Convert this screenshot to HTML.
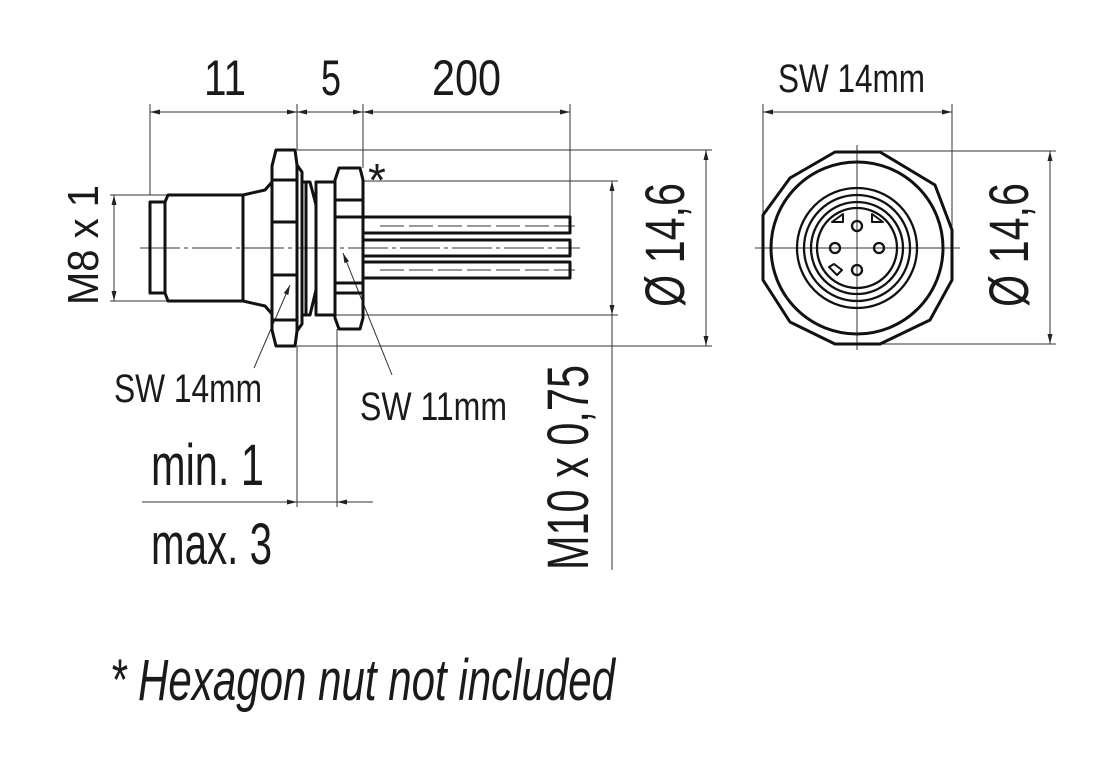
<!DOCTYPE html>
<html><head><meta charset="utf-8"><style>
html,body{margin:0;padding:0;background:#fff;}
svg{display:block;}
text{font-family:"Liberation Sans Narrow","Liberation Sans",sans-serif;fill:#1a1a1a;}
</style></head><body>
<svg width="1104" height="764" viewBox="0 0 1104 764" xmlns="http://www.w3.org/2000/svg">
<defs>
<marker id="a" viewBox="0 0 10 6" refX="10" refY="3" markerWidth="10" markerHeight="6" markerUnits="userSpaceOnUse" orient="auto-start-reverse"><path d="M0,0.5 L10,3 L0,5.5z" fill="#222"/></marker>
</defs>
<g stroke="#333" stroke-width="1" fill="none">
<line x1="150" y1="104" x2="150" y2="195"/>
<line x1="297" y1="104" x2="297" y2="150"/>
<line x1="363" y1="104" x2="363" y2="168"/>
<line x1="570" y1="104" x2="570" y2="217"/>
<line x1="150" y1="112" x2="297" y2="112" marker-start="url(#a)" marker-end="url(#a)"/>
<line x1="297" y1="112" x2="363" y2="112" marker-start="url(#a)" marker-end="url(#a)"/>
<line x1="363" y1="112" x2="570" y2="112" marker-start="url(#a)" marker-end="url(#a)"/>
<line x1="110" y1="195" x2="168" y2="195"/>
<line x1="110" y1="301" x2="168" y2="301"/>
<line x1="114" y1="195" x2="114" y2="301" marker-start="url(#a)" marker-end="url(#a)"/>
<line x1="297" y1="150" x2="712" y2="150"/>
<line x1="297" y1="346" x2="712" y2="346"/>
<line x1="363" y1="181" x2="618" y2="181"/>
<line x1="335" y1="315" x2="618" y2="315"/>
<line x1="706" y1="150" x2="706" y2="346" marker-start="url(#a)" marker-end="url(#a)"/>
<line x1="612" y1="181" x2="612" y2="315" marker-start="url(#a)" marker-end="url(#a)"/>
<line x1="612" y1="315" x2="612" y2="570"/>
<line x1="297" y1="346" x2="297" y2="507"/>
<line x1="337" y1="329" x2="337" y2="507"/>
<line x1="142" y1="502" x2="373" y2="502"/>
<line x1="285" y1="502" x2="297" y2="502" marker-end="url(#a)"/>
<line x1="349" y1="502" x2="337" y2="502" marker-end="url(#a)"/>
<line x1="254" y1="368" x2="290" y2="285" marker-end="url(#a)"/>
<line x1="392" y1="375" x2="343" y2="253" marker-end="url(#a)"/>
<line x1="140" y1="248" x2="580" y2="248" stroke-dasharray="40,4,4,4"/>
<line x1="380" y1="226" x2="575" y2="226" stroke-dasharray="24,5"/>
<line x1="380" y1="270" x2="575" y2="270" stroke-dasharray="24,5"/>
<line x1="763" y1="104" x2="763" y2="248"/>
<line x1="952" y1="104" x2="952" y2="248"/>
<line x1="763" y1="112" x2="952" y2="112" marker-start="url(#a)" marker-end="url(#a)"/>
<line x1="857" y1="151" x2="1056" y2="151"/>
<line x1="857" y1="344" x2="1056" y2="344"/>
<line x1="1050" y1="151" x2="1050" y2="344" marker-start="url(#a)" marker-end="url(#a)"/>
<line x1="755" y1="248" x2="960" y2="248"/>
<line x1="857" y1="145" x2="857" y2="350"/>
</g>
<g stroke="#111" stroke-width="3" fill="none" stroke-linejoin="round">
<rect x="150" y="202" width="15" height="91"/>
<path d="M165,202 L168,195 L243,195 L243,301 L168,301 L165,293"/>
<path d="M243,195 L265,190 L272,182 M243,301 L265,306 L272,314"/>
<path d="M276,150 L295,150 L297,165 L297,331 L295,346 L276,346 L272,330 L272,166 Z"/>
<path d="M272,180 L297,180 M272,222 L297,222 M272,275 L297,275 M272,320 L297,320"/>
<path d="M297,165 L302,172 L302,324 L297,331"/>
<path d="M302,182 L310,182 L316,205 L316,290 L310,315 L302,315"/>
<path d="M306,182 L306,315"/>
<rect x="316" y="182" width="19" height="133"/>
<path d="M339,168 L360,168 L363,180 L363,318 L360,329 L339,329 L335,318 L335,180 Z"/>
<path d="M335,200 L363,200 M335,217 L363,217 M335,283 L363,283 M335,293 L363,293"/>
<rect x="363" y="217" width="207" height="16"/>
<rect x="363" y="240" width="207" height="16"/>
<rect x="363" y="262" width="207" height="16"/>
<path d="M835,152 L880,152 L935,185 L952,230 L952,280 L930,320 L880,344 L835,344 L790,322 L763,280 L763,215 L790,178 Z"/>
<circle cx="857" cy="248" r="86"/>
<circle cx="857" cy="248" r="60" stroke-width="2.3"/>
<circle cx="857" cy="248" r="53" stroke-width="2.3"/>
<circle cx="857" cy="248" r="46" stroke-width="2.3"/>
<circle cx="857" cy="248" r="40" stroke-width="2.3"/>
<g stroke-width="2.3"><circle cx="857" cy="226" r="5"/><circle cx="835" cy="248" r="5"/><circle cx="879" cy="248" r="5"/><circle cx="857" cy="270" r="5"/></g>
<path d="M832,222 L843,222 L843,214 Z M872,222 L883,222 L872,214 Z M829,267 L837,275 L842,270 L834,264 Z" stroke-width="2"/>
</g>
<g font-size="50">
<text x="204" y="95" textLength="42" lengthAdjust="spacingAndGlyphs">11</text>
<text x="321" y="95" textLength="20" lengthAdjust="spacingAndGlyphs">5</text>
<text x="432" y="95" textLength="69" lengthAdjust="spacingAndGlyphs">200</text>
</g>
<text x="778" y="92" font-size="40" textLength="147" lengthAdjust="spacingAndGlyphs">SW 14mm</text>
<text x="114" y="402" font-size="40" textLength="148" lengthAdjust="spacingAndGlyphs">SW 14mm</text>
<text x="360" y="420" font-size="40" textLength="147" lengthAdjust="spacingAndGlyphs">SW 11mm</text>
<text x="368" y="196" font-size="46">*</text>
<text x="151" y="485" font-size="58" textLength="113" lengthAdjust="spacingAndGlyphs">min. 1</text>
<text x="151" y="564" font-size="58" textLength="121" lengthAdjust="spacingAndGlyphs">max. 3</text>
<text transform="translate(98,305) rotate(-90)" font-size="44" textLength="120" lengthAdjust="spacingAndGlyphs">M8 x 1</text>
<text transform="translate(588,570) rotate(-90)" font-size="58" textLength="205" lengthAdjust="spacingAndGlyphs">M10 x 0,75</text>
<text transform="translate(684,307) rotate(-90)" font-size="56" textLength="124" lengthAdjust="spacingAndGlyphs">Ø 14,6</text>
<text transform="translate(1028,307) rotate(-90)" font-size="56" textLength="124" lengthAdjust="spacingAndGlyphs">Ø 14,6</text>
<text x="110" y="700" font-size="58" font-style="italic" textLength="505" lengthAdjust="spacingAndGlyphs">* Hexagon nut not included</text>
</svg>
</body></html>
